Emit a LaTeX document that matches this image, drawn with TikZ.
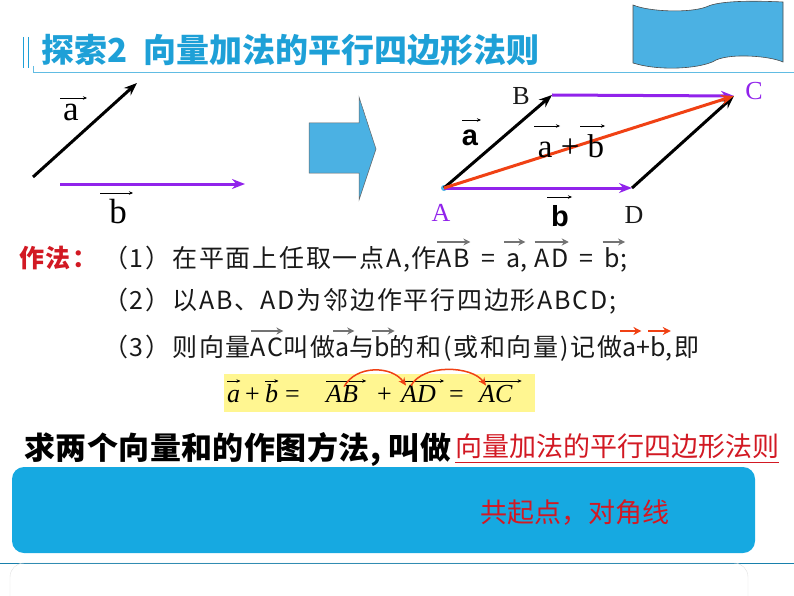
\documentclass[tikz,border=0pt]{standalone}
\usepackage{fontspec}
\setmainfont{Liberation Serif}
\newfontfamily\cjk{Noto Sans CJK SC}
\newfontfamily\cjkwide[LetterSpace=7]{Noto Sans CJK SC}
\newfontfamily\cjkbold[LetterSpace=1.5]{Noto Sans CJK SC}
\newfontfamily\arial{Liberation Sans}
\usetikzlibrary{arrows.meta,positioning}
\definecolor{titleblue}{RGB}{30,160,215}
\definecolor{flagblue}{RGB}{75,177,227}
\definecolor{boxblue}{RGB}{22,169,225}
\definecolor{vpurple}{RGB}{145,35,235}
\definecolor{vred}{RGB}{240,65,20}
\definecolor{txtred}{RGB}{210,25,35}
\definecolor{eqyellow}{RGB}{255,246,145}
\definecolor{inkgray}{RGB}{25,25,25}

\tikzset{
  vecline/.style={line width=3pt,-{Stealth[length=13pt,width=10pt]}},
  txtarr/.style={black!55,line width=2.2pt,-{Stealth[length=7pt,width=7pt]}},
  redarr/.style={vred,line width=2.6pt,-{Stealth[length=8pt,width=8pt]}},
  widen/.style={shorten <=-2pt,shorten >=-5pt},
  thinarr/.style={black,line width=.6pt,-{Stealth[length=4pt,width=3.5pt]}},
  ptlabel/.style={font=\fontsize{26}{26}\selectfont,inner sep=0pt},
  steptext/.style={anchor=base west,inner sep=0pt,text=inkgray,font=\cjkwide\fontsize{25}{25}\selectfont},
  eqtext/.style={anchor=base west,inner sep=0pt,font=\fontsize{26}{26}\selectfont},
}
% arrow drawn above a piece of running text
\newcommand\vecover[3]{\tikz[baseline=(w.base)]{\node[inner sep=0pt,outer sep=0pt](w){#3};
  \draw[overlay,#1]([yshift=#2]w.base west)--([yshift=#2]w.base east);}}
\newcommand\eqsign{\hspace{11pt}=\hspace{11pt}}

\begin{document}
\begin{tikzpicture}[x=1pt,y=-1pt,>=latex]
\useasboundingbox (0,0) rectangle (794,596);

% title
\draw[titleblue,line width=1pt] (23,37) -- (23,68) (28,37) -- (28,68);
\draw[titleblue!70,line width=.8pt] (33,66) -- (33,72) -- (794,72);
\node[anchor=base west,inner sep=0pt,text=titleblue,font=\cjk\bfseries\fontsize{33}{33}\selectfont] (title) at (41,63) {探索2\hspace{16pt}向量加法的平行四边形法则};

% banner
\draw[fill=flagblue,draw=black!70,line width=.6pt] (633,5) .. controls (650,12) and (690,13) .. (706,7)
  .. controls (716,2) and (740,0) .. (783,2) -- (783,62) .. controls (770,56) and (732,53) .. (716,60)
  .. controls (704,68) and (662,72) .. (633,63) -- cycle;

% the two vectors
\coordinate (a0) at (33,177);
\coordinate (a1) at (137,83);
\coordinate (b0) at (60,184);
\coordinate (b1) at (245,184);
\draw[vecline,black] (a0) -- (a1);
\draw[vecline,vpurple] (b0) -- (b1);
\node[inner sep=0pt,font=\fontsize{35}{35}\selectfont] (la) at (71,112) {a};
\node[inner sep=0pt,font=\fontsize{35}{35}\selectfont] (lb) at (118,212) {b};
\draw[thinarr] (60,98) -- (87,98);
\draw[thinarr] (100,193) -- (133,193);

% block arrow
\draw[fill=flagblue,draw=black!60,line width=.5pt] (309,123) -- (359,123) -- (359,97) -- (376,149)
  -- (359,200) -- (359,173) -- (309,173) -- cycle;

% parallelogram
\coordinate (A) at (444,188);
\coordinate (B) at (552,95);
\coordinate (C) at (734,96);
\coordinate (D) at (632,188);
\fill[flagblue] (A) circle (3);
\draw[vecline,black] (A) -- (B);
\draw[vecline,vpurple] (B) -- (C);
\draw[vecline,vpurple] (A) -- (D);
\draw[vecline,black] (D) -- (C);
\draw[vecline,vred] (A) -- (C);
\node[ptlabel,text=inkgray] (lB) at (521,96) {B};
\node[ptlabel,text=vpurple] (lC) at (754,91) {C};
\node[ptlabel,text=vpurple] (lA) at (441,213) {A};
\node[ptlabel,text=inkgray] (lD) at (634,215) {D};
\node[inner sep=0pt,font=\arial\bfseries\fontsize{29}{29}\selectfont] (sa) at (470,138) {a};
\node[inner sep=0pt,font=\arial\bfseries\fontsize{29}{29}\selectfont] (sb) at (560,216) {b};
\draw[thinarr] (462,120) -- (481,120);
\draw[thinarr] (547,197) -- (572,197);
\node[inner sep=0pt,font=\fontsize{33}{33}\selectfont] (sum) at (571,146) {a + b};
\draw[thinarr] (534,126) -- (560,126);
\draw[thinarr] (580,126) -- (605,126);

% construction steps
\node[anchor=base west,inner sep=0pt,text=txtred,font=\cjkwide\bfseries\fontsize{25}{25}\selectfont] (howto) at (19,267) {作法：};
\node[steptext] (step1) at (103,267) {（1）在平面上任取一点A,作\vecover{txtarr}{25pt}{AB}\eqsign\vecover{txtarr,widen}{25pt}{a}, \vecover{txtarr}{25pt}{AD}\eqsign\vecover{txtarr,widen}{25pt}{b};};
\node[steptext] (step2) at (103,309) {（2）以AB、AD为邻边作平行四边形ABCD;};
\node[steptext] (step3) at (103,356) {（3）则向量\vecover{txtarr}{25pt}{AC}叫做\vecover{txtarr,widen}{25pt}{a}与\vecover{txtarr,widen}{25pt}{b}的和(或和向量)记做\vecover{redarr,widen}{25pt}{a}+\vecover{redarr,widen}{25pt}{b},即};

% equation
\fill[eqyellow] (224,374) rectangle (535,412);
\node[eqtext] (ea) at (227,402) {\itshape a};
\node[eqtext] (p1) at (245,402) {+};
\node[eqtext] (eb) at (265,402) {\itshape b};
\node[eqtext] (q1) at (285,402) {=};
\node[eqtext] (ab) at (326,402) {\itshape AB};
\node[eqtext] (p2) at (377,402) {+};
\node[eqtext] (ad) at (401,402) {\itshape AD};
\node[eqtext] (q2) at (449,402) {=};
\node[eqtext] (ac) at (479,402) {\itshape AC};
\draw[thinarr] ([yshift=21pt]ea.base west) -- ([yshift=21pt]ea.base east);
\draw[thinarr] ([yshift=21pt]eb.base west) -- ([yshift=21pt]eb.base east);
\draw[thinarr] ([yshift=21pt]ab.base west) -- ([xshift=8pt,yshift=21pt]ab.base east);
\draw[thinarr] ([yshift=21pt]ad.base west) -- ([xshift=8pt,yshift=21pt]ad.base east);
\draw[thinarr] ([yshift=21pt]ac.base west) -- ([xshift=9pt,yshift=21pt]ac.base east);
\draw[vred,line width=1.5pt,-{Stealth[length=8pt,width=7pt]}] ([xshift=2pt,yshift=-2pt]ab.north) .. controls +(12,-22) and +(-14,-20) .. ([xshift=5pt,yshift=-1pt]ad.north west);
\draw[vred,line width=1.5pt,-{Stealth[length=8pt,width=7pt]}] ([xshift=10pt,yshift=-1pt]ad.north west) .. controls +(12,-22) and +(-14,-20) .. ([xshift=7pt,yshift=-1pt]ac.north west);

% conclusion
\node[anchor=base west,inner sep=0pt,text=black,font=\cjkbold\bfseries\fontsize{31}{31}\selectfont] (rule) at (24,459) {求两个向量和的作图方法, 叫做};
\node[anchor=base west,inner sep=0pt,text=txtred,font=\cjk\fontsize{27}{27}\selectfont] (law) at (455,456) {向量加法的平行四边形法则};
\draw[txtred,line width=1pt] ([yshift=-6pt]law.base west) -- ([yshift=-6pt]law.base east);

\fill[boxblue,rounded corners=12pt] (12,467) rectangle (755,553);
\node[inner sep=0pt,text=txtred,font=\cjk\fontsize{27}{27}\selectfont] (hint) at (575,513) {共起点，对角线};

\draw[titleblue!80!black,line width=.8pt] (0,563) -- (794,563);
\draw[black!12,rounded corners=14pt] (10,600) -- (10,563) -- (748,563) -- (748,600);
\end{tikzpicture}
\end{document}
